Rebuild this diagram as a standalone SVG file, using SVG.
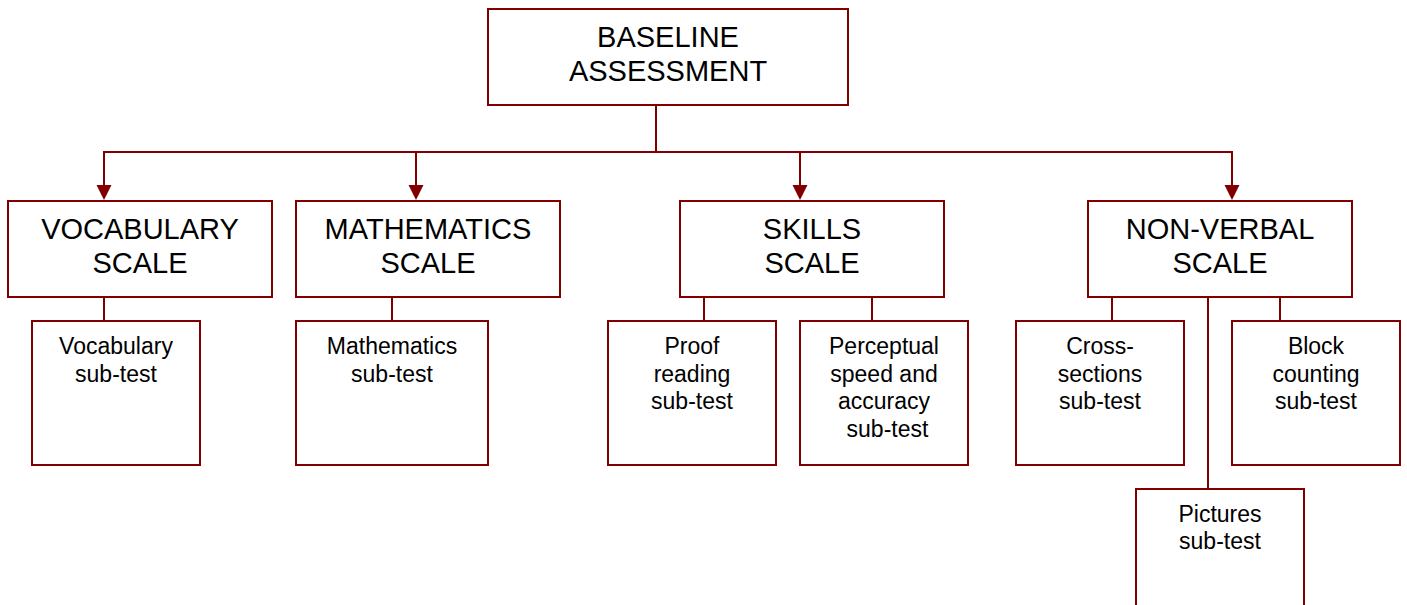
<svg xmlns="http://www.w3.org/2000/svg" width="1407" height="605" viewBox="0 0 1407 605">
<style>
.box{fill:#fff;stroke:#800000;stroke-width:2}
.ln{fill:none;stroke:#800000;stroke-width:2}
.big{font-family:"Liberation Sans",Arial,sans-serif;font-size:29px;fill:#000;text-anchor:middle}
.sm{font-family:"Liberation Sans",Arial,sans-serif;font-size:23px;fill:#000;text-anchor:middle}
</style>
<defs>
<marker id="arr" markerUnits="userSpaceOnUse" markerWidth="16" markerHeight="16" viewBox="0 0 16 16" refX="8" refY="15" orient="auto-start-reverse">
<path d="M0.5,0 L15.5,0 L8,15 Z" fill="#800000" transform="rotate(0)"/>
</marker>
</defs>
<rect width="1407" height="605" fill="#fff"/>
<g id="connectors">
<path class="ln" d="M656,105 V152"/>
<path class="ln" d="M104,185 V152 H1232 V185"/>
<path fill="#800000" d="M96.5,185 H111.5 L104,200 Z"/>
<path fill="#800000" d="M1224.5,185 H1239.5 L1232,200 Z"/>
<path class="ln" d="M416,152 V185"/>
<path fill="#800000" d="M408.5,185 H423.5 L416,200 Z"/>
<path class="ln" d="M800,152 V185"/>
<path fill="#800000" d="M792.5,185 H807.5 L800,200 Z"/>
<path class="ln" d="M104,297 V321"/>
<path class="ln" d="M392,297 V321"/>
<path class="ln" d="M704,297 V321"/>
<path class="ln" d="M872,297 V321"/>
<path class="ln" d="M1112,297 V321"/>
<path class="ln" d="M1280,297 V321"/>
<path class="ln" d="M1208,297 V489"/>
</g>
<g id="baseline">
<rect class="box" x="488" y="9" width="360" height="96"/>
<text class="big" x="668" y="47">BASELINE</text>
<text class="big" x="668" y="81">ASSESSMENT</text>
</g>
<g id="vocabulary-scale">
<rect class="box" x="8" y="201" width="264" height="96"/>
<text class="big" x="140" y="239">VOCABULARY</text>
<text class="big" x="140" y="273">SCALE</text>
</g>
<g id="mathematics-scale">
<rect class="box" x="296" y="201" width="264" height="96"/>
<text class="big" x="428" y="239">MATHEMATICS</text>
<text class="big" x="428" y="273">SCALE</text>
</g>
<g id="skills-scale">
<rect class="box" x="680" y="201" width="264" height="96"/>
<text class="big" x="812" y="239">SKILLS</text>
<text class="big" x="812" y="273">SCALE</text>
</g>
<g id="nonverbal-scale">
<rect class="box" x="1088" y="201" width="264" height="96"/>
<text class="big" x="1220" y="239">NON-VERBAL</text>
<text class="big" x="1220" y="273">SCALE</text>
</g>
<g id="vocabulary-subtest">
<rect class="box" x="32" y="321" width="168" height="144"/>
<text class="sm" x="116" y="354">Vocabulary</text>
<text class="sm" x="116" y="381.5">sub-test</text>
</g>
<g id="mathematics-subtest">
<rect class="box" x="296" y="321" width="192" height="144"/>
<text class="sm" x="392" y="354">Mathematics</text>
<text class="sm" x="392" y="381.5">sub-test</text>
</g>
<g id="proof-reading">
<rect class="box" x="608" y="321" width="168" height="144"/>
<text class="sm" x="692" y="354">Proof</text>
<text class="sm" x="692" y="381.5">reading</text>
<text class="sm" x="692" y="409">sub-test</text>
</g>
<g id="perceptual">
<rect class="box" x="800" y="321" width="168" height="144"/>
<text class="sm" x="884" y="354">Perceptual</text>
<text class="sm" x="884" y="381.5">speed and</text>
<text class="sm" x="884" y="409">accuracy</text>
<text class="sm" x="887.5" y="436.5">sub-test</text>
</g>
<g id="cross-sections">
<rect class="box" x="1016" y="321" width="168" height="144"/>
<text class="sm" x="1100" y="354">Cross-</text>
<text class="sm" x="1100" y="381.5">sections</text>
<text class="sm" x="1100" y="409">sub-test</text>
</g>
<g id="block-counting">
<rect class="box" x="1232" y="321" width="168" height="144"/>
<text class="sm" x="1316" y="354">Block</text>
<text class="sm" x="1316" y="381.5">counting</text>
<text class="sm" x="1316" y="409">sub-test</text>
</g>
<g id="pictures">
<rect class="box" x="1136" y="489" width="168" height="144"/>
<text class="sm" x="1220" y="522">Pictures</text>
<text class="sm" x="1220" y="549">sub-test</text>
</g>
</svg>
